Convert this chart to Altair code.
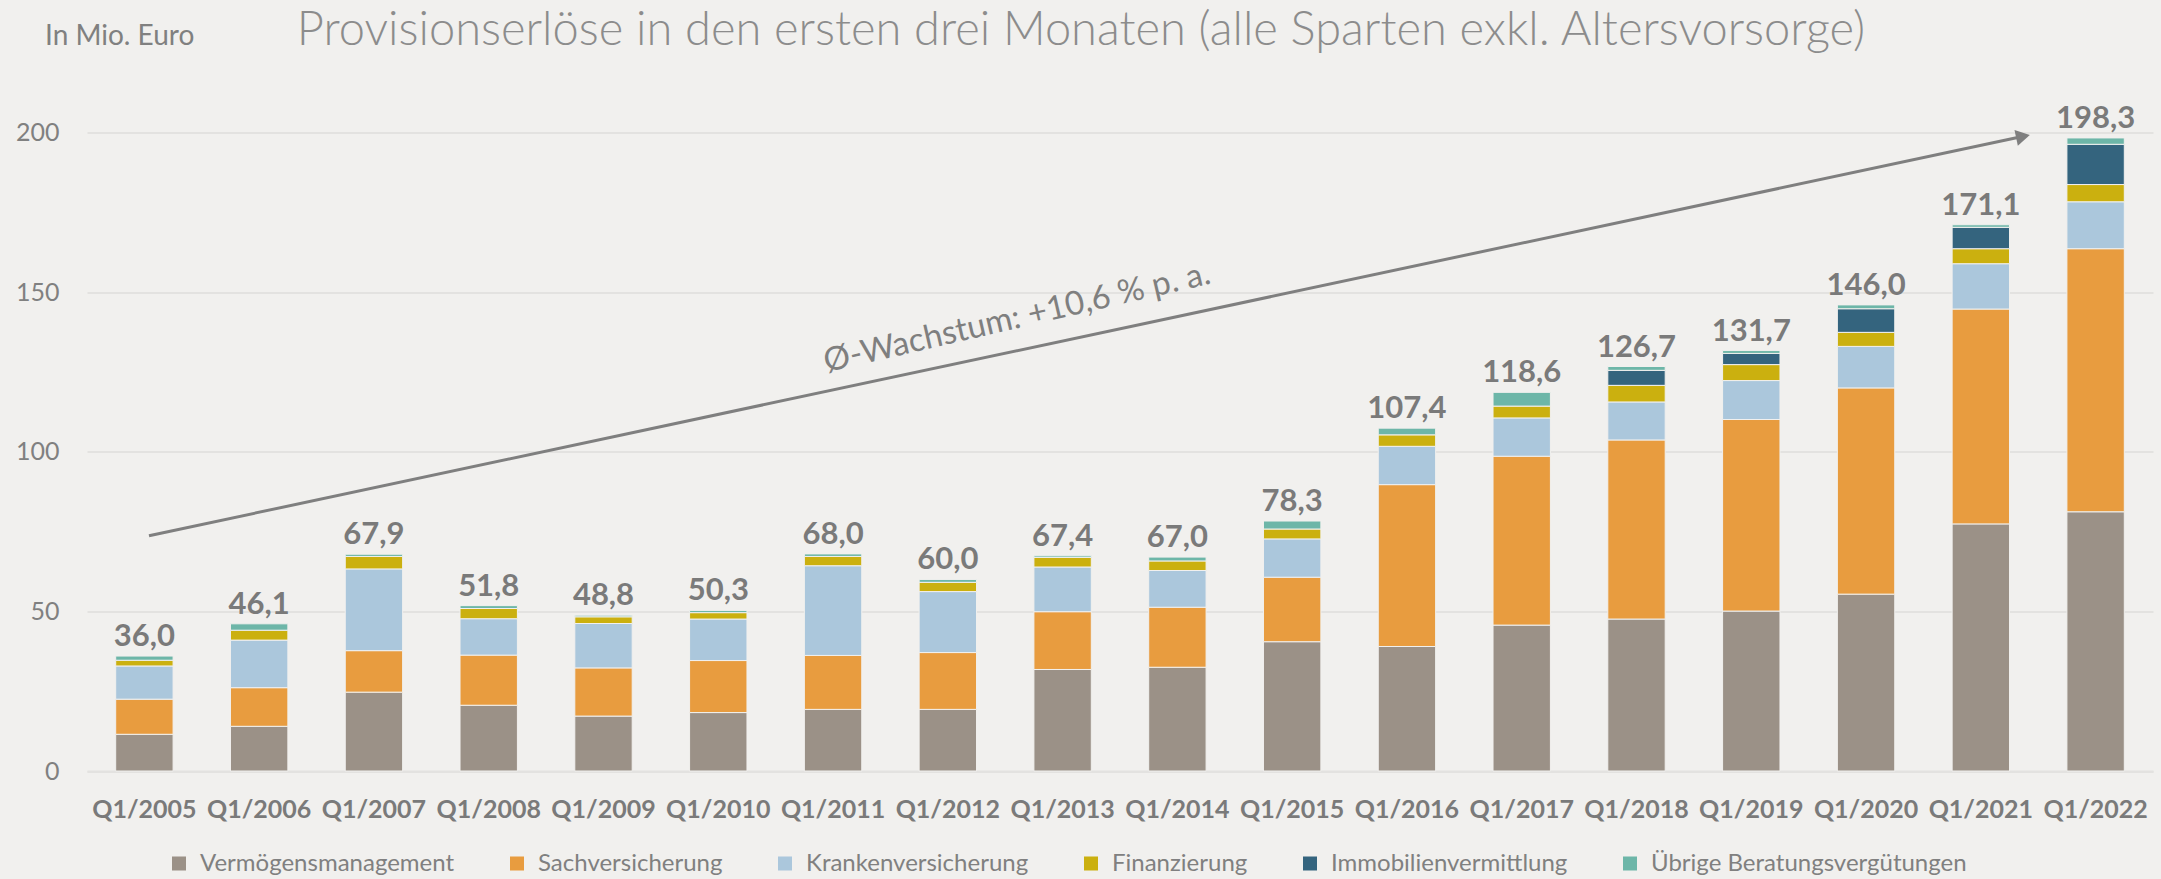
import altair as alt
import pandas as pd

# ---------------- data ----------------
quarters = ["Q1/2005", "Q1/2006", "Q1/2007", "Q1/2008", "Q1/2009", "Q1/2010",
            "Q1/2011", "Q1/2012", "Q1/2013", "Q1/2014", "Q1/2015", "Q1/2016",
            "Q1/2017", "Q1/2018", "Q1/2019", "Q1/2020", "Q1/2021", "Q1/2022"]

series = ["Vermögensmanagement", "Sachversicherung", "Krankenversicherung",
          "Finanzierung", "Immobilienvermittlung", "Übrige Beratungsvergütungen"]

vermoegen = [11.5, 14.0, 24.7, 20.6, 17.2, 18.3, 19.3, 19.3, 31.8, 32.5, 40.5, 39.0,
             45.7, 47.6, 50.1, 55.4, 77.4, 81.2]
sach = [11.0, 12.1, 13.0, 15.7, 15.1, 16.3, 16.9, 17.8, 18.1, 18.8, 20.2, 50.7,
        52.9, 56.1, 60.0, 64.6, 67.3, 82.4]
kranken = [10.4, 14.9, 25.6, 11.4, 13.9, 13.0, 28.1, 19.1, 14.0, 11.5, 12.0, 12.0,
           12.0, 11.9, 12.2, 13.0, 14.2, 14.7]
finanz = [1.8, 3.1, 3.9, 3.2, 2.1, 2.0, 2.9, 2.9, 3.0, 3.0, 3.1, 3.6,
          3.7, 5.2, 5.0, 4.4, 4.7, 5.4]
immo = [0, 0, 0, 0, 0, 0, 0, 0, 0, 0, 0, 0,
        0, 4.7, 3.5, 7.4, 6.7, 12.6]
uebrige = [1.3, 2.0, 0.7, 0.9, 0.5, 0.7, 0.8, 0.9, 0.5, 1.2, 2.5, 2.1,
           4.3, 1.2, 0.9, 1.2, 0.8, 2.0]

totals = [36.0, 46.1, 67.9, 51.8, 48.8, 50.3, 68.0, 60.0, 67.4, 67.0, 78.3, 107.4,
          118.6, 126.7, 131.7, 146.0, 171.1, 198.3]

colors = ["#9b9187", "#e89c3f", "#abc7dc", "#cbb00f", "#34647e", "#6db6a8"]

title_text = "Provisionserlöse in den ersten drei Monaten (alle Sparten exkl. Altersvorsorge)"
unit_text = "In Mio. Euro"
growth_text = "Ø-Wachstum: +10,6 % p. a."

# annotation: arrow from near first bar to last bar (y in data units)
arrow_y = [73.7, 198.6]
arrow_tip_y = 198.8
growth_y = 141.9

# ---------------- build tables ----------------
cols = [vermoegen, sach, kranken, finanz, immo, uebrige]
rows = []
for si, (name, vals) in enumerate(zip(series, cols)):
    for q, v in zip(quarters, vals):
        rows.append({"quarter": q, "series": name, "value": v, "idx": si})
df = pd.DataFrame(rows)
df_tot = pd.DataFrame({"quarter": quarters, "total": totals})

FONT = "Lato"
GREY = "#7a7a7a"

W = 2066
H = 638.5

xenc = alt.X("quarter:N", sort=quarters, title=None,
             scale=alt.Scale(paddingInner=0.5, paddingOuter=0.25),
             axis=alt.Axis(labelAngle=0, labelFont=FONT, labelFontSize=25,
                           labelFontWeight="bold", labelColor=GREY,
                           labelPadding=26, ticks=False, domain=True,
                           domainColor="#e3e2e0", domainWidth=2))

yscale = alt.Scale(domain=[0, 200], nice=False)

bars = alt.Chart(df).transform_filter("datum.value > 0").mark_bar(
    stroke="#f1f0ee", strokeWidth=1
).encode(
    x=xenc,
    y=alt.Y("value:Q", stack="zero", scale=yscale, title=None,
            axis=alt.Axis(values=[0, 50, 100, 150, 200], labelFont=FONT,
                          labelFontSize=25, labelColor="#808080", labelPadding=28,
                          ticks=False, domain=False, gridColor="#e3e2e0",
                          gridWidth=2)),
    color=alt.Color("series:N", scale=alt.Scale(domain=series, range=colors),
                    legend=alt.Legend(title=None, orient="none", direction="horizontal",
                                      legendX=80, legendY=719, symbolType="square",
                                      symbolSize=196, symbolStrokeWidth=0,
                                      labelFont=FONT, labelFontSize=24,
                                      labelColor="#808080", labelOffset=9,
                                      labelLimit=0,
                                      columnPadding=50, padding=0, columns=6)),
    order=alt.Order("idx:Q", sort="ascending"),
)

labels = alt.Chart(df_tot).transform_calculate(
    lab="replace(format(datum.total, '.1f'), '.', ',')"
).mark_text(font=FONT, fontSize=31, fontWeight="bold", color=GREY,
            baseline="alphabetic", dy=-10).encode(
    x=alt.X("quarter:N", sort=quarters),
    y=alt.Y("total:Q"),
    text="lab:N",
)

one = pd.DataFrame({"a": [0]})

arrow_line = alt.Chart(one).mark_rule(color="#7f7f7f", strokeWidth=3).encode(
    x=alt.value(62), x2=alt.value(1933),
    y=alt.Y(datum=arrow_y[0]), y2=alt.Y2(datum=arrow_y[1]),
)

arrow_head = alt.Chart(one).mark_point(
    shape="triangle-right", filled=True, color="#7f7f7f", size=260, angle=348, opacity=1
).encode(x=alt.value(1936), y=alt.Y(datum=arrow_tip_y))

growth = alt.Chart(one).mark_text(
    font=FONT, fontSize=33, color="#7f7f7f", angle=347, align="center", baseline="middle"
).encode(x=alt.value(930), y=alt.Y(datum=growth_y), text=alt.value(growth_text))

unit = alt.Chart(one).mark_text(
    font=FONT, fontSize=28, color="#808080", align="left", baseline="alphabetic"
).encode(x=alt.value(-42), y=alt.value(-87.5), text=alt.value(unit_text))

title = alt.Chart(one).mark_text(
    font=FONT, fontSize=47, fontWeight=300, color="#8c8c8c", align="center",
    baseline="alphabetic"
).encode(x=alt.value(994), y=alt.value(-87.5), text=alt.value(title_text))

chart = alt.layer(bars, labels, arrow_line, arrow_head, growth, unit, title).properties(
    width=W, height=H,
    autosize=alt.AutoSizeParams(type="none"),
    padding={"left": 87, "top": 132.5, "right": 8, "bottom": 108},
).configure(background="#f1f0ee").configure_view(stroke=None)

chart.save("out.html", embed_options={"renderer": "svg", "actions": False})
